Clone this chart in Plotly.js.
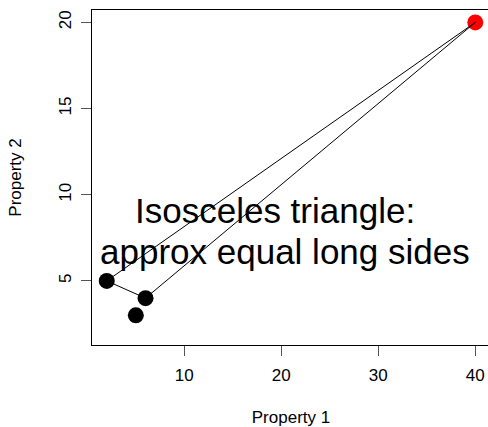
<!DOCTYPE html>
<html>
<head>
<meta charset="utf-8">
<script src="https://cdn.plot.ly/plotly-3.0.1.min.js"></script>
<style>
html, body { margin: 0; padding: 0; overflow: hidden; background: #fff; }
#chart { width: 500px; height: 427px; }
</style>
</head>
<body>
<div id="chart"></div>
<script>
// Black points (Property 1, Property 2)
var blackX = [2, 6, 5];
var blackY = [5, 4, 3];
// Red apex point
var redX = [40];
var redY = [20];
// Triangle edges (null separates segments)
var edgeX = [2, 40, null, 6, 40, null, 2, 6];
var edgeY = [5, 20, null, 4, 20, null, 5, 4];
// Axis ticks
var xTicks = [10, 20, 30, 40];
var yTicks = [5, 10, 15, 20];
// Note text, one line each, with its anchor in data units
var noteLines = ["Isosceles triangle:", "approx equal long sides"];
var noteX = [19.4, 20.4];
var noteY = [9.1, 6.7];

var FONT = "Liberation Sans, Arial, Helvetica, sans-serif";

var traces = [
  { x: blackX, y: blackY, mode: "markers", type: "scatter",
    marker: { color: "#000000", size: 16 }, hoverinfo: "skip" },
  { x: redX, y: redY, mode: "markers", type: "scatter",
    marker: { color: "#FF0000", size: 16 }, hoverinfo: "skip" },
  { x: edgeX, y: edgeY, mode: "lines", type: "scatter",
    line: { color: "#000000", width: 1 }, connectgaps: false, hoverinfo: "skip" }
];

var axisCommon = {
  showgrid: false, zeroline: false,
  showline: true, mirror: true, linecolor: "#000000", linewidth: 1,
  ticks: "outside", ticklen: 10, tickcolor: "#555555", tickwidth: 1,
  tickfont: { family: FONT, size: 17, color: "#000000" },
  automargin: false
};

var layout = {
  width: 500, height: 427,
  margin: { l: 92, r: 10, t: 10, b: 82 },
  paper_bgcolor: "#ffffff", plot_bgcolor: "#ffffff",
  showlegend: false,
  font: { family: FONT, color: "#000000" },
  xaxis: Object.assign({}, axisCommon, {
    range: [0.48, 41.52], tickvals: xTicks, ticktext: xTicks.map(String),
    ticklabelstandoff: 5,
    title: { text: "Property 1", font: { family: FONT, size: 17, color: "#000000" }, standoff: 30 }
  }),
  yaxis: Object.assign({}, axisCommon, {
    range: [1.28, 20.72], tickvals: yTicks, ticktext: yTicks.map(String),
    tickangle: -90, ticklabelstandoff: 3,
    title: { text: "Property 2", font: { family: FONT, size: 17, color: "#000000" }, standoff: 30 }
  }),
  annotations: noteLines.map(function (t, i) {
    return {
      x: noteX[i], y: noteY[i], xref: "x", yref: "y",
      text: t, showarrow: false,
      font: { family: FONT, size: 35, color: "#000000" },
      xanchor: "center", yanchor: "middle", align: "center"
    };
  })
};

Plotly.newPlot("chart", traces, layout, { staticPlot: true, displayModeBar: false });
</script>
</body>
</html>
